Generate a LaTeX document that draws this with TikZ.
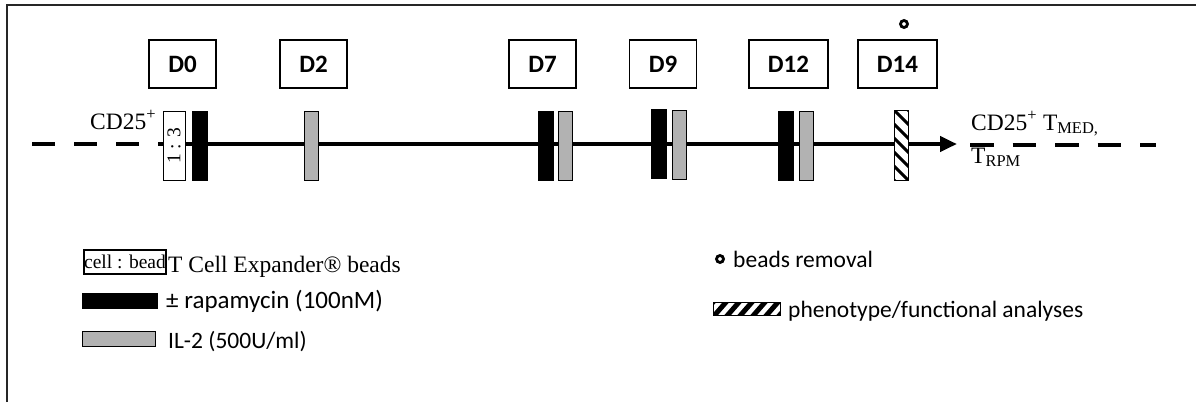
\documentclass[tikz,border=0pt]{standalone}
\usepackage{fontspec}
\setmainfont{Liberation Serif}
\newfontfamily\calfont{Carlito}
\usetikzlibrary{arrows.meta}
\definecolor{ilgray}{RGB}{178,178,178}
\begin{document}
\begin{tikzpicture}[x=1pt,y=-1pt,
  daybox/.style={draw=black,line width=1.4pt,minimum width=67pt,minimum height=48pt,
    inner sep=0pt,font=\calfont\bfseries\fontsize{25}{30}\selectfont},
  widebox/.style={daybox,minimum width=79pt},
  barbase/.style={minimum height=69pt,inner sep=0pt,line width=1pt},
  rapabar/.style={barbase,fill=black,draw=black,minimum width=15pt},
  ilbar/.style={barbase,fill=ilgray,draw=black,minimum width=14pt},
  beadbar/.style={barbase,fill=white,draw=black,minimum width=22pt},
  hatchbar/.style={barbase,fill=white,minimum width=13pt},
  serif/.style={inner sep=0pt,font=\fontsize{23.5}{28}\selectfont},
  smallserif/.style={inner sep=0pt,font=\fontsize{19.5}{22}\selectfont},
  sans/.style={inner sep=0pt,font=\calfont\fontsize{23.5}{28}\selectfont},
  timeline/.style={line width=4.5pt},
  ring/.style={draw=black,line width=2.8pt,fill=white,circle,minimum size=7pt,inner sep=0pt}]
\useasboundingbox (0,0) rectangle (1196,402);

% outer frame
\draw[line width=2pt,draw=black!85] (7,402) -- (7,5) -- (1196,5);

% timeline
\coordinate (inL) at (32,144);
\coordinate (solidL) at (160,144);
\coordinate (tip) at (957,144);
\coordinate (outL) at (970,145);
\coordinate (outR) at (1156,145);
\draw[timeline,dash pattern=on 23pt off 19pt] (inL) -- (solidL);
\draw[timeline,-{Triangle[length=17pt,width=15pt]}] (solidL) -- (tip);
\draw[timeline,dash pattern=on 23.5pt off 19pt] (outL) -- (outR);

% day labels
\node[daybox] (d0) at (182.5,64) {D0};
\node[daybox] (d2) at (313.5,64) {D2};
\node[daybox] (d7) at (542.5,64) {D7};
\node[daybox] (d9) at (663,64) {D9};
\node[widebox] (d12) at (788.5,64) {D12};
\node[widebox] (d14) at (897.5,64) {D14};
\node[ring] (rm) at (904,24) {};

% treatment bars
\node[beadbar] (bd0) at (174,145.5) {};
\node[rotate=90,smallserif] (ratio) at (bd0.center) {1 : 3};
\node[rapabar] (r0) at (199.5,145.5) {};
\node[ilbar] (i2) at (311,145.5) {};
\node[rapabar] (r7) at (545.5,145.5) {};
\node[ilbar] (i7) at (565.5,145.5) {};
\node[rapabar] (r9) at (658.5,144) {};
\node[ilbar] (i9) at (679,144.5) {};
\node[rapabar] (r12) at (785.5,145.5) {};
\node[ilbar] (i12) at (806,145.5) {};
\node[hatchbar] (h14) at (901.5,145.5) {};
\begin{scope}
  \clip (h14.south west) rectangle (h14.north east);
  \foreach \y in {96,110,...,190}
    \draw[line width=3pt] (894,\y) -- (909,\y+15);
\end{scope}
\draw[line width=1pt] (h14.south west) rectangle (h14.north east);

% population labels
\node[serif,anchor=base west] (cdin) at (90,129) {CD25\textsuperscript{+}};
\node[serif,anchor=base west] (cdout) at (971,130) {CD25\textsuperscript{+} T\textsubscript{MED,}};
\node[serif,anchor=base west] (trpm) at (971,163) {T\textsubscript{RPM}};

% legend, left column
\node[draw=black,line width=1.2pt,minimum width=82pt,minimum height=24pt,inner sep=0pt,
      smallserif] (lgbead) at (125,262) {cell : bead};
\node[serif,anchor=base west] (lgbeadtxt) at (168,272) {T Cell Expander® beads};
\node[rapabar,minimum width=75pt,minimum height=15pt] (lgrapa) at (119.5,300.5) {};
\node[sans,anchor=base west,font=\calfont\fontsize{25}{30}\selectfont] (lgrapatxt) at (166,308) {± rapamycin (100nM)};
\node[ilbar,minimum width=73pt,minimum height=15pt] (lgil) at (118.5,338.5) {};
\node[sans,anchor=base west] (lgiltxt) at (168,348) {IL-2 (500U/ml)};

% legend, right column
\node[ring] (lgring) at (720,259) {};
\node[sans,anchor=base west] (lgringtxt) at (733,267) {beads removal};
\node[hatchbar,minimum width=66pt,minimum height=12pt] (lghatch) at (747,309) {};
\begin{scope}
  \clip (lghatch.south west) rectangle (lghatch.north east);
  \foreach \x in {700,713,...,790}
    \draw[line width=5pt] (\x,317) -- (\x+14,301);
\end{scope}
\draw[line width=1.5pt] (lghatch.south west) rectangle (lghatch.north east);
\node[sans,anchor=base west] (lghatchtxt) at (788,317) {phenotype/functional analyses};
\end{tikzpicture}
\end{document}
